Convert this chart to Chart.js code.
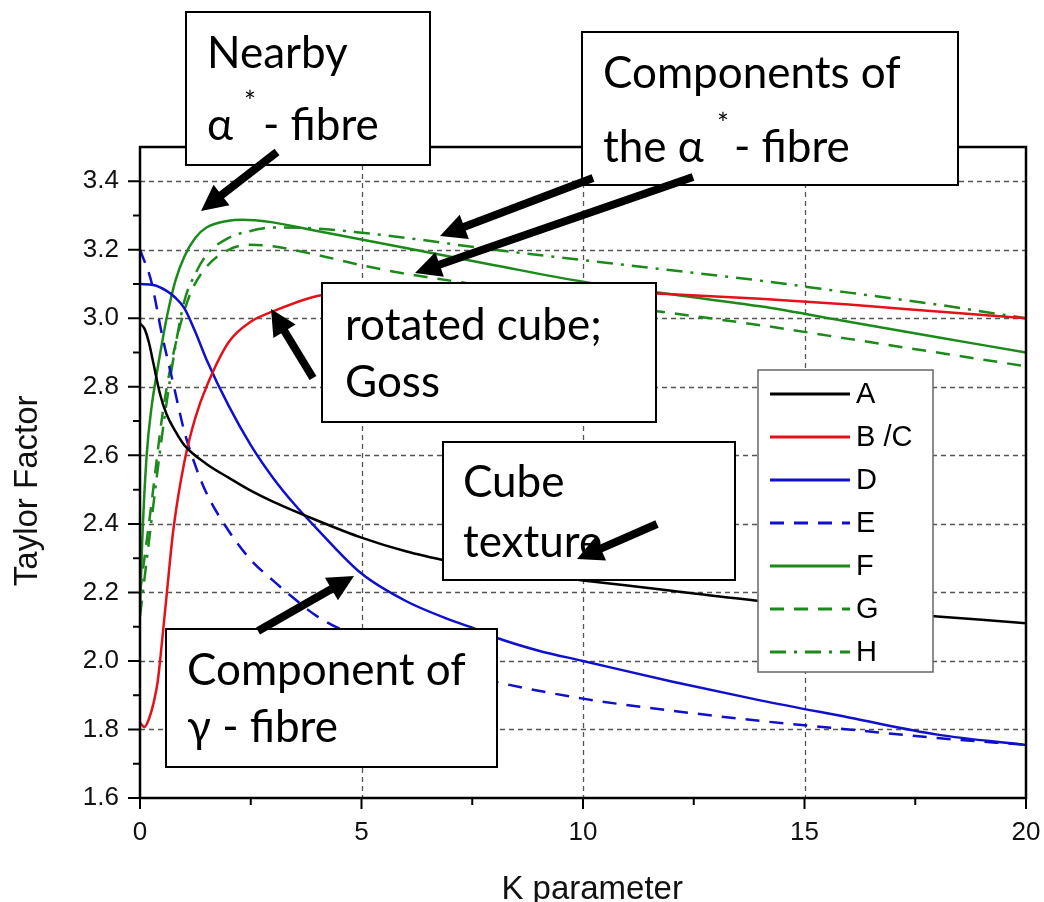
<!DOCTYPE html>
<html>
<head>
<meta charset="utf-8">
<script src="https://cdn.jsdelivr.net/npm/chart.js@4.4.1/dist/chart.umd.min.js"></script>
<style>
  html, body { margin: 0; padding: 0; background: #fff; }
  canvas { display: block; }
</style>
</head>
<body>
<canvas id="chart" width="1044" height="902"></canvas>
<script>
// Taylor factor vs K parameter
const aX = [0, 0.1, 0.2, 0.3, 0.45, 0.6, 0.8, 1, 1.5, 2, 2.5, 3, 4, 5, 6, 7, 8, 10, 12, 14, 16, 18, 20];
const aY = [2.985, 2.97, 2.93, 2.87, 2.78, 2.72, 2.67, 2.63, 2.575, 2.535, 2.497, 2.465, 2.41, 2.36, 2.32, 2.29, 2.265, 2.235, 2.205, 2.175, 2.15, 2.13, 2.11];

const bcX = [0, 0.1, 0.2, 0.3, 0.4, 0.5, 0.6, 0.75, 1, 1.25, 1.5, 2, 2.5, 3, 4, 5, 6, 8, 10, 12, 14, 16, 18, 20];
const bcY = [1.82, 1.807, 1.83, 1.874, 1.94, 2.06, 2.19, 2.38, 2.58, 2.71, 2.80, 2.93, 2.99, 3.02, 3.065, 3.08, 3.085, 3.087, 3.082, 3.07, 3.057, 3.04, 3.02, 3.0];

const dX = [0, 0.3, 0.6, 0.8, 1, 1.25, 1.5, 2, 2.5, 3, 3.5, 4, 5, 6, 7, 7.5, 8, 9, 10, 12, 14, 16, 18, 20];
const dY = [3.10, 3.097, 3.08, 3.06, 3.03, 2.96, 2.88, 2.745, 2.63, 2.535, 2.455, 2.385, 2.255, 2.175, 2.12, 2.097, 2.07, 2.03, 2.0, 1.94, 1.885, 1.835, 1.785, 1.755];

const eX = [0, 0.25, 0.5, 0.75, 1, 1.25, 1.5, 2, 2.5, 3, 3.5, 4, 5, 6, 7, 8, 10, 12, 14, 16, 18, 20];
const eY = [3.20, 3.11, 2.95, 2.81, 2.67, 2.57, 2.49, 2.38, 2.295, 2.235, 2.18, 2.13, 2.065, 2.015, 1.975, 1.94, 1.89, 1.855, 1.825, 1.80, 1.775, 1.755];

const fX = [0, 0.05, 0.15, 0.25, 0.38, 0.5, 0.6, 0.8, 1, 1.25, 1.5, 2, 2.3, 2.6, 3, 4, 5, 6, 8, 10, 12, 14, 16, 18, 20];
const fY = [2.15, 2.35, 2.6, 2.73, 2.84, 2.93, 3.0, 3.11, 3.18, 3.235, 3.265, 3.285, 3.288, 3.286, 3.28, 3.255, 3.23, 3.205, 3.155, 3.107, 3.07, 3.035, 2.99, 2.945, 2.9];

const gX = [0, 0.25, 0.53, 0.83, 1.13, 1.5, 2, 2.5, 3, 4, 5, 6, 7, 8, 10, 12, 14, 16, 18, 20];
const gY = [2.2, 2.45, 2.74, 2.94, 3.07, 3.15, 3.20, 3.215, 3.21, 3.185, 3.155, 3.13, 3.11, 3.09, 3.05, 3.015, 2.98, 2.94, 2.90, 2.86];

const hX = [0, 0.25, 0.5, 0.75, 1, 1.25, 1.5, 2, 2.5, 3, 4, 5, 6, 8, 10, 12, 14, 16, 18, 20];
const hY = [2.13, 2.4, 2.66, 2.88, 3.05, 3.13, 3.185, 3.235, 3.255, 3.265, 3.262, 3.25, 3.235, 3.2, 3.17, 3.14, 3.11, 3.075, 3.04, 3.0];

const seriesLabels = ['A', 'B /C', 'D', 'E', 'F', 'G', 'H'];

const xTicks = [0, 5, 10, 15, 20];
const xMinorTicks = [2.5, 7.5, 12.5, 17.5];
const yTicks = [1.6, 1.8, 2.0, 2.2, 2.4, 2.6, 2.8, 3.0, 3.2, 3.4];
const yMinorTicks = [1.7, 1.9, 2.1, 2.3, 2.5, 2.7, 2.9, 3.1, 3.3];

const BLACK = '#000000';
const RED = '#e3121a';
const BLUE = '#0f0fcc';
const GREEN = '#1b8a1b';

function pts(xs, ys) {
    return xs.map((x, i) => ({ x: x, y: ys[i] }));
}

const datasets = [
    { label: seriesLabels[0], data: pts(aX, aY), borderColor: BLACK, borderDash: [] },
    { label: seriesLabels[1], data: pts(bcX, bcY), borderColor: RED, borderDash: [] },
    { label: seriesLabels[2], data: pts(dX, dY), borderColor: BLUE, borderDash: [] },
    { label: seriesLabels[3], data: pts(eX, eY), borderColor: BLUE, borderDash: [14, 10] },
    { label: seriesLabels[4], data: pts(fX, fY), borderColor: GREEN, borderDash: [] },
    { label: seriesLabels[5], data: pts(gX, gY), borderColor: GREEN, borderDash: [14, 10] },
    { label: seriesLabels[6], data: pts(hX, hY), borderColor: GREEN, borderDash: [16, 8, 3, 8] }
].map(d => Object.assign({
    showLine: true,
    pointRadius: 0,
    borderWidth: 2.5,
    fill: false,
    cubicInterpolationMode: 'monotone'
}, d));

// callout boxes laid over the plot
const NOTE_FONT = '44px Lato';
const STAR_FONT = '28px Lato';
const notes = [
    { box: [186, 12, 430, 165], lines: [
        [{ t: 'Nearby', x: 207, y: 68 }],
        [{ t: 'α', x: 207, y: 140 }, { t: '*', x: 244, y: 112, star: true }, { t: '- fibre', x: 263, y: 140 }]
    ] },
    { box: [582, 32, 958, 185], lines: [
        [{ t: 'Components of', x: 603, y: 88 }],
        [{ t: 'the α', x: 603, y: 162 }, { t: '*', x: 717, y: 134, star: true }, { t: '- fibre', x: 734, y: 162 }]
    ] },
    { box: [322, 283, 656, 422], lines: [
        [{ t: 'rotated cube;', x: 345, y: 340 }],
        [{ t: 'Goss', x: 345, y: 397 }]
    ] },
    { box: [443, 442, 735, 580], lines: [
        [{ t: 'Cube', x: 463, y: 497 }],
        [{ t: 'texture', x: 463, y: 557 }]
    ] },
    { box: [166, 629, 497, 767], lines: [
        [{ t: 'Component of', x: 187, y: 685 }],
        [{ t: 'γ - fibre', x: 187, y: 742 }]
    ] }
];

const arrows = [
    [277, 152, 201, 211],
    [593, 178, 440, 236],
    [693, 177, 415, 273],
    [313, 378, 271, 309],
    [657, 524, 577, 559],
    [258, 631, 354, 576]
];

function drawArrow(ctx, x1, y1, x2, y2) {
    const ang = Math.atan2(y2 - y1, x2 - x1);
    const hl = 26, hw = 13;
    const bx = x2 - hl * Math.cos(ang);
    const by = y2 - hl * Math.sin(ang);
    ctx.lineWidth = 8;
    ctx.lineCap = 'butt';
    ctx.beginPath();
    ctx.moveTo(x1, y1);
    ctx.lineTo(bx + 2 * Math.cos(ang), by + 2 * Math.sin(ang));
    ctx.stroke();
    ctx.beginPath();
    ctx.moveTo(x2, y2);
    ctx.lineTo(bx + hw * Math.sin(ang), by - hw * Math.cos(ang));
    ctx.lineTo(bx - hw * Math.sin(ang), by + hw * Math.cos(ang));
    ctx.closePath();
    ctx.fill();
}

const framePlugin = {
    id: 'frame',
    beforeDatasetsDraw(chart) {
        const { ctx, chartArea: a, scales: { x, y } } = chart;
        ctx.save();
        ctx.strokeStyle = '#555';
        ctx.lineWidth = 1.3;
        ctx.setLineDash([5, 4]);
        ctx.beginPath();
        xTicks.forEach(v => {
            if (v > x.min && v < x.max) {
                const px = Math.round(x.getPixelForValue(v)) + 0.5;
                ctx.moveTo(px, a.top);
                ctx.lineTo(px, a.bottom);
            }
        });
        yTicks.forEach(v => {
            if (v > y.min && v < y.max) {
                const py = Math.round(y.getPixelForValue(v)) + 0.5;
                ctx.moveTo(a.left, py);
                ctx.lineTo(a.right, py);
            }
        });
        ctx.stroke();
        ctx.restore();
    },
    afterDatasetsDraw(chart) {
        const { ctx, chartArea: a, scales: { x, y } } = chart;
        ctx.save();
        ctx.setLineDash([]);
        ctx.strokeStyle = '#000';
        ctx.lineWidth = 2.5;
        ctx.strokeRect(a.left, a.top, a.right - a.left, a.bottom - a.top);
        ctx.lineWidth = 2;
        ctx.beginPath();
        xTicks.forEach(v => {
            const px = x.getPixelForValue(v);
            ctx.moveTo(px, a.bottom);
            ctx.lineTo(px, a.bottom + 11);
        });
        xMinorTicks.forEach(v => {
            const px = x.getPixelForValue(v);
            ctx.moveTo(px, a.bottom);
            ctx.lineTo(px, a.bottom + 7);
        });
        yTicks.forEach(v => {
            const py = y.getPixelForValue(v);
            ctx.moveTo(a.left, py);
            ctx.lineTo(a.left - 12, py);
        });
        yMinorTicks.forEach(v => {
            const py = y.getPixelForValue(v);
            ctx.moveTo(a.left, py);
            ctx.lineTo(a.left - 7, py);
        });
        ctx.stroke();
        ctx.restore();
    },
    afterDraw(chart) {
        const ctx = chart.ctx;
        ctx.save();

        // legend inside the plot
        const lg = [758, 370, 933, 672];
        ctx.fillStyle = '#fff';
        ctx.fillRect(lg[0], lg[1], lg[2] - lg[0], lg[3] - lg[1]);
        ctx.strokeStyle = '#666';
        ctx.lineWidth = 1.5;
        ctx.strokeRect(lg[0], lg[1], lg[2] - lg[0], lg[3] - lg[1]);
        ctx.font = '29px "Liberation Sans", Arial, sans-serif';
        ctx.textBaseline = 'middle';
        chart.data.datasets.forEach((ds, i) => {
            const ry = 394 + i * 43;
            ctx.strokeStyle = ds.borderColor;
            ctx.lineWidth = 3;
            ctx.setLineDash(ds.borderDash || []);
            ctx.beginPath();
            ctx.moveTo(770, ry);
            ctx.lineTo(850, ry);
            ctx.stroke();
            ctx.setLineDash([]);
            ctx.fillStyle = '#000';
            ctx.fillText(ds.label, 856, ry + 1);
        });

        // callout boxes
        notes.forEach(n => {
            const b = n.box;
            ctx.fillStyle = '#fff';
            ctx.fillRect(b[0], b[1], b[2] - b[0], b[3] - b[1]);
            ctx.strokeStyle = '#000';
            ctx.lineWidth = 2;
            ctx.strokeRect(b[0], b[1], b[2] - b[0], b[3] - b[1]);
            ctx.fillStyle = '#000';
            ctx.textBaseline = 'alphabetic';
            n.lines.forEach(line => line.forEach(p => {
                ctx.font = p.star ? STAR_FONT : NOTE_FONT;
                ctx.fillText(p.t, p.x, p.y);
            }));
        });

        ctx.fillStyle = '#000';
        ctx.strokeStyle = '#000';
        arrows.forEach(a => drawArrow(ctx, a[0], a[1], a[2], a[3]));
        ctx.restore();
    }
};

const tickFont = { family: '"Liberation Sans", Arial, sans-serif', size: 26 };
const titleFont = { family: '"Liberation Sans", Arial, sans-serif', size: 33, lineHeight: 1 };

new Chart(document.getElementById('chart'), {
    type: 'scatter',
    data: { datasets: datasets },
    options: {
        responsive: false,
        animation: false,
        devicePixelRatio: 1,
        layout: { padding: { left: 0, right: 18, top: 147, bottom: 0 } },
        plugins: {
            legend: { display: false },
            tooltip: { enabled: false }
        },
        scales: {
            x: {
                type: 'linear',
                min: 0,
                max: 20,
                afterBuildTicks: s => { s.ticks = xTicks.map(v => ({ value: v })); },
                afterFit: s => {
                    s.height = 104;
                    s.paddingLeft = 0;
                    s.paddingRight = 0;
                },
                grid: { display: false, drawTicks: false },
                border: { display: false },
                ticks: {
                    font: tickFont,
                    color: '#111',
                    padding: 19,
                    maxRotation: 0,
                    callback: v => String(v)
                },
                title: {
                    display: true,
                    text: '  K parameter',
                    font: titleFont,
                    color: '#111',
                    padding: { top: 0, bottom: -4 }
                }
            },
            y: {
                type: 'linear',
                min: 1.6,
                max: 3.5,
                afterBuildTicks: s => { s.ticks = yTicks.map(v => ({ value: v })); },
                afterFit: s => {
                    s.width = 140;
                    s.paddingTop = 0;
                    s.paddingBottom = 0;
                },
                grid: { display: false, drawTicks: false },
                border: { display: false },
                ticks: {
                    font: tickFont,
                    color: '#111',
                    padding: 21,
                    callback: v => Number(v).toFixed(1)
                },
                title: {
                    display: true,
                    text: 'Taylor Factor    ',
                    font: titleFont,
                    color: '#111',
                    padding: { top: 11, bottom: 0 }
                }
            }
        }
    },
    plugins: [framePlugin]
});
</script>
</body>
</html>
